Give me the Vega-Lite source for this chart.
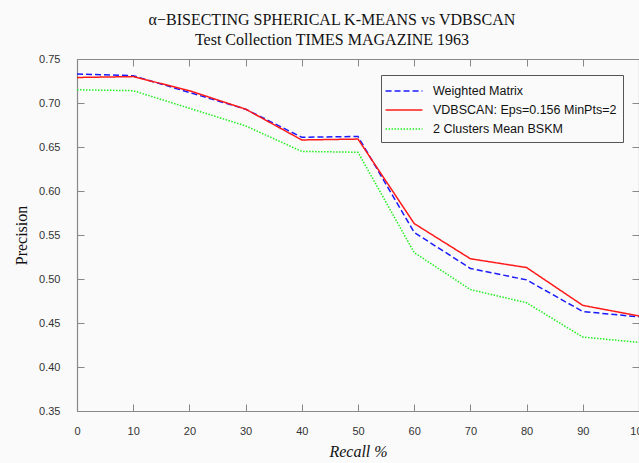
{
  "$schema": "https://vega.github.io/schema/vega-lite/v6.json",
  "autosize": "none",
  "width": 562,
  "height": 352,
  "padding": {"left": 77, "top": 59, "right": 0, "bottom": 52},
  "background": "#fafafa",
  "title": {
    "text": "α−BISECTING SPHERICAL K-MEANS vs VDBSCAN",
    "subtitle": "Test Collection TIMES MAGAZINE 1963",
    "font": "Liberation Serif",
    "fontSize": 16,
    "fontWeight": "normal",
    "color": "#111",
    "subtitleFont": "Liberation Serif",
    "subtitleFontSize": 16,
    "subtitleColor": "#111",
    "subtitlePadding": 4,
    "anchor": "middle",
    "offset": 5,
    "dx": -26
  },
  "config": {
    "view": {"stroke": null},
    "axis": {
      "grid": false,
      "domainColor": "#888",
      "domainWidth": 1.2,
      "tickColor": "#888",
      "tickSize": -7,
      "tickWidth": 1,
      "labelFont": "Liberation Sans",
      "labelFontSize": 11,
      "labelColor": "#333",
      "titleFont": "Liberation Serif",
      "titleFontWeight": "normal",
      "titleFontSize": 16,
      "titleColor": "#111"
    },
    "legend": {
      "labelFont": "Liberation Sans",
      "labelFontSize": 12.5,
      "labelColor": "#111",
      "labelLimit": 0,
      "symbolType": "M-2,0H2",
      "symbolSize": 340,
      "symbolStrokeWidth": 1.5,
      "symbolOffset": 7,
      "labelOffset": 19,
      "strokeColor": "#555",
      "fillColor": "#fafafa",
      "padding": 6,
      "rowPadding": 2,
      "orient": "top-right",
      "offset": 16
    }
  },
  "data": {
    "values": [
      {"recall": 0, "precision": 0.733, "series": "Weighted Matrix"},
      {"recall": 10, "precision": 0.731, "series": "Weighted Matrix"},
      {"recall": 20, "precision": 0.712, "series": "Weighted Matrix"},
      {"recall": 30, "precision": 0.693, "series": "Weighted Matrix"},
      {"recall": 40, "precision": 0.661, "series": "Weighted Matrix"},
      {"recall": 50, "precision": 0.662, "series": "Weighted Matrix"},
      {"recall": 60, "precision": 0.553, "series": "Weighted Matrix"},
      {"recall": 70, "precision": 0.512, "series": "Weighted Matrix"},
      {"recall": 80, "precision": 0.499, "series": "Weighted Matrix"},
      {"recall": 90, "precision": 0.463, "series": "Weighted Matrix"},
      {"recall": 100, "precision": 0.457, "series": "Weighted Matrix"},
      {"recall": 0, "precision": 0.729, "series": "VDBSCAN: Eps=0.156 MinPts=2"},
      {"recall": 10, "precision": 0.730, "series": "VDBSCAN: Eps=0.156 MinPts=2"},
      {"recall": 20, "precision": 0.714, "series": "VDBSCAN: Eps=0.156 MinPts=2"},
      {"recall": 30, "precision": 0.693, "series": "VDBSCAN: Eps=0.156 MinPts=2"},
      {"recall": 40, "precision": 0.658, "series": "VDBSCAN: Eps=0.156 MinPts=2"},
      {"recall": 50, "precision": 0.659, "series": "VDBSCAN: Eps=0.156 MinPts=2"},
      {"recall": 60, "precision": 0.563, "series": "VDBSCAN: Eps=0.156 MinPts=2"},
      {"recall": 70, "precision": 0.523, "series": "VDBSCAN: Eps=0.156 MinPts=2"},
      {"recall": 80, "precision": 0.513, "series": "VDBSCAN: Eps=0.156 MinPts=2"},
      {"recall": 90, "precision": 0.470, "series": "VDBSCAN: Eps=0.156 MinPts=2"},
      {"recall": 100, "precision": 0.458, "series": "VDBSCAN: Eps=0.156 MinPts=2"},
      {"recall": 0, "precision": 0.715, "series": "2 Clusters Mean BSKM"},
      {"recall": 10, "precision": 0.714, "series": "2 Clusters Mean BSKM"},
      {"recall": 20, "precision": 0.694, "series": "2 Clusters Mean BSKM"},
      {"recall": 30, "precision": 0.674, "series": "2 Clusters Mean BSKM"},
      {"recall": 40, "precision": 0.645, "series": "2 Clusters Mean BSKM"},
      {"recall": 50, "precision": 0.644, "series": "2 Clusters Mean BSKM"},
      {"recall": 60, "precision": 0.530, "series": "2 Clusters Mean BSKM"},
      {"recall": 70, "precision": 0.488, "series": "2 Clusters Mean BSKM"},
      {"recall": 80, "precision": 0.473, "series": "2 Clusters Mean BSKM"},
      {"recall": 90, "precision": 0.434, "series": "2 Clusters Mean BSKM"},
      {"recall": 100, "precision": 0.428, "series": "2 Clusters Mean BSKM"}
    ]
  },
  "layer": [
    {
      "mark": {"type": "line", "strokeWidth": 1.5, "clip": true},
      "encoding": {
        "x": {
          "field": "recall", "type": "quantitative",
          "scale": {"domain": [0, 100], "nice": false, "zero": false},
          "axis": {"title": "Recall %", "titleFontStyle": "italic", "values": [0,10,20,30,40,50,60,70,80,90,100], "labelPadding": 21, "titlePadding": 7, "labelFlush": false, "format": "d"}
        },
        "y": {
          "field": "precision", "type": "quantitative",
          "scale": {"domain": [0.35, 0.75], "nice": false, "zero": false},
          "axis": {"title": "Precision", "values": [0.35,0.4,0.45,0.5,0.55,0.6,0.65,0.7,0.75], "format": ".2f", "labelPadding": 24, "titlePadding": 9, "labelFlush": false}
        },
        "color": {
          "field": "series", "type": "nominal",
          "sort": ["Weighted Matrix", "VDBSCAN: Eps=0.156 MinPts=2", "2 Clusters Mean BSKM"],
          "scale": {"domain": ["Weighted Matrix", "VDBSCAN: Eps=0.156 MinPts=2", "2 Clusters Mean BSKM"], "range": ["#1a1aff", "#ff1a1a", "#22ee22"]},
          "legend": {"title": null}
        },
        "strokeDash": {
          "field": "series", "type": "nominal",
          "scale": {"domain": ["Weighted Matrix", "VDBSCAN: Eps=0.156 MinPts=2", "2 Clusters Mean BSKM"], "range": [[6, 3], [1, 0], [1.5, 1.5]]},
          "legend": null
        }
      }
    },
    {
      "mark": {"type": "line", "opacity": 0},
      "encoding": {
        "x": {"field": "recall", "type": "quantitative", "axis": {"orient": "top", "labels": false, "title": null, "values": [0,10,20,30,40,50,60,70,80,90,100]}},
        "y": {"field": "precision", "type": "quantitative", "axis": {"orient": "right", "labels": false, "title": null, "values": [0.35,0.4,0.45,0.5,0.55,0.6,0.65,0.7,0.75]}},
        "detail": {"field": "series"}
      }
    }
  ],
  "resolve": {"axis": {"x": "independent", "y": "independent"}}
}
